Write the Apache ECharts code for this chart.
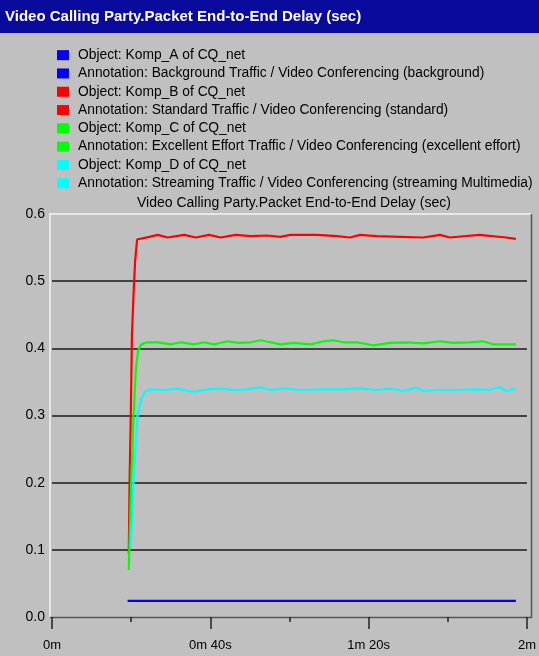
<!DOCTYPE html>
<html><head><meta charset="utf-8">
<script src="https://cdn.jsdelivr.net/npm/echarts@6/dist/echarts.min.js"></script>
<style>html,body{margin:0;padding:0;background:#c0c0c0;}#c{width:539px;height:656px;}</style>
</head><body><div id="c"></div>
<script>
const titleText = 'Video Calling Party.Packet End-to-End Delay (sec)';
const legendNames = [
  'Object: Komp_A of CQ_net',
  'Annotation: Background Traffic / Video Conferencing (background)',
  'Object: Komp_B of CQ_net',
  'Annotation: Standard Traffic / Video Conferencing (standard)',
  'Object: Komp_C of CQ_net',
  'Annotation: Excellent Effort Traffic / Video Conferencing (excellent effort)',
  'Object: Komp_D of CQ_net',
  'Annotation: Streaming Traffic / Video Conferencing (streaming Multimedia)'
];
const colors = ['#0000ff', '#ff0000', '#00ff00', '#00ffff'];
const xTickLabels = {0: '0m', 40: '0m 40s', 80: '1m 20s', 120: '2m'};
const yTickLabels = ['0.0', '0.1', '0.2', '0.3', '0.4', '0.5', '0.6'];

// time (s) and delay (sec) values
const tA = [19.1, 30, 45, 60, 75, 90, 105, 117.2];
const vA = [0.024, 0.024, 0.024, 0.024, 0.024, 0.024, 0.024, 0.024];

const tB = [19.4, 19.6, 19.9, 20.2, 20.6, 21.0, 21.5, 24.6, 26.7, 29.2, 33.4, 36.3, 39.7, 42.6, 46.4, 50.2, 54.3, 57.7, 60.2, 66.9, 72.0, 75.3, 77.8, 82.0, 87.9, 93.8, 98.0, 100.5, 108.0, 114.7, 117.2];
const vB = [0.094, 0.20, 0.30, 0.42, 0.48, 0.53, 0.562, 0.566, 0.569, 0.565, 0.569, 0.565, 0.569, 0.565, 0.569, 0.567, 0.568, 0.566, 0.569, 0.569, 0.567, 0.565, 0.569, 0.567, 0.566, 0.565, 0.569, 0.565, 0.569, 0.565, 0.563];

const tC = [19.4, 20.0, 20.6, 21.2, 21.7, 22.4, 23.4, 24.2, 26.7, 30.0, 32.6, 35.9, 38.4, 40.9, 44.3, 47.2, 50.2, 52.7, 55.2, 57.7, 61.1, 65.3, 68.6, 71.1, 73.6, 77.0, 81.2, 85.4, 89.6, 93.8, 98.0, 101.3, 105.5, 108.9, 111.4, 114.7, 117.2];
const vC = [0.070, 0.20, 0.30, 0.37, 0.395, 0.405, 0.408, 0.409, 0.409, 0.406, 0.409, 0.406, 0.409, 0.406, 0.4105, 0.408, 0.409, 0.412, 0.409, 0.406, 0.408, 0.406, 0.4105, 0.412, 0.409, 0.409, 0.4045, 0.408, 0.409, 0.4075, 0.4105, 0.408, 0.409, 0.4105, 0.406, 0.406, 0.406];

const tD = [19.9, 20.6, 21.6, 22.6, 23.4, 25.0, 28.4, 31.7, 35.9, 39.2, 42.6, 46.0, 49.3, 52.7, 55.2, 58.5, 62.7, 68.6, 73.6, 77.8, 82.0, 85.4, 88.7, 92.1, 93.8, 97.1, 102.1, 107.2, 110.5, 113.1, 114.7, 117.2];
const vD = [0.104, 0.20, 0.30, 0.325, 0.335, 0.339, 0.338, 0.340, 0.335, 0.339, 0.340, 0.338, 0.339, 0.342, 0.338, 0.3405, 0.338, 0.339, 0.339, 0.3405, 0.338, 0.340, 0.3365, 0.3414, 0.3365, 0.338, 0.338, 0.339, 0.338, 0.3424, 0.3365, 0.340];

const zip = (t, v) => t.map((x, i) => [x, v[i]]);
const dataSets = [zip(tA, vA), zip(tB, vB), zip(tC, vC), zip(tD, vD)];

const FONT = 'Liberation Sans';
const series = [];
for (let i = 0; i < 4; i++) {
  series.push({
    name: legendNames[2 * i], type: 'line', data: dataSets[i], showSymbol: false,
    color: colors[i], lineStyle: {width: 2.2, color: colors[i]}, z: 3
  });
  series.push({
    name: legendNames[2 * i + 1], type: 'line', data: [], showSymbol: false,
    color: colors[i], lineStyle: {width: 2, color: colors[i]}
  });
}

const chart = echarts.init(document.getElementById('c'), null, {renderer: 'canvas'});
chart.setOption({
  animation: false,
  backgroundColor: '#c0c0c0',
  title: [
    {text: titleText, left: 5, top: 9, padding: 0,
     textStyle: {color: '#ffffff', fontFamily: FONT, fontWeight: 'bold', fontSize: 15}},
    {text: titleText, left: 137, top: 196, padding: 0,
     textStyle: {color: '#000000', fontFamily: FONT, fontWeight: 'normal', fontSize: 14}}
  ],
  legend: {
    orient: 'vertical', left: 57, top: 46, padding: 0,
    icon: 'rect', itemWidth: 12, itemHeight: 10, itemGap: 0,
    data: legendNames,
    textStyle: {color: '#000', fontFamily: FONT, fontSize: 13.8, lineHeight: 18.3, padding: [0, 0, 0, 4]}
  },
  graphic: [
    {type: 'rect', left: 0, top: 0, shape: {width: 539, height: 33}, style: {fill: '#0a0a9c'}, z: -1},
    {type: 'line', shape: {x1: 50, y1: 213, x2: 50, y2: 617}, style: {stroke: '#f4f4f4', lineWidth: 1.5}},
    {type: 'line', shape: {x1: 50, y1: 214, x2: 531, y2: 214}, style: {stroke: '#f4f4f4', lineWidth: 1.5}},
    {type: 'line', shape: {x1: 531.5, y1: 214, x2: 531.5, y2: 618}, style: {stroke: '#555555', lineWidth: 1.5}},
    {type: 'line', shape: {x1: 50, y1: 617.5, x2: 532, y2: 617.5}, style: {stroke: '#555555', lineWidth: 1.5}}
  ],
  grid: {left: 52, top: 214, width: 477, height: 403, containLabel: false},
  xAxis: {
    type: 'value', min: 0, max: 120, interval: 40,
    axisLine: {show: false},
    axisTick: {show: true, length: 12, lineStyle: {color: '#222', width: 1.5}},
    minorTick: {show: true, splitNumber: 2, length: 5, lineStyle: {color: '#222', width: 1.5}},
    splitLine: {show: false}, minorSplitLine: {show: false},
    axisLabel: {margin: 22, color: '#000', fontFamily: FONT, fontSize: 13,
      formatter: v => xTickLabels[v] !== undefined ? xTickLabels[v] : ''}
  },
  yAxis: {
    type: 'value', min: 0, max: 0.6, interval: 0.1,
    axisLine: {show: false}, axisTick: {show: false},
    splitLine: {show: true, showMinLine: false, showMaxLine: false, lineStyle: {color: '#1a1a1a', width: 1.5}},
    axisLabel: {margin: 7, color: '#000', fontFamily: FONT, fontSize: 14,
      formatter: v => yTickLabels[Math.round(v * 10)]}
  },
  series: series
});
</script>
</body></html>
